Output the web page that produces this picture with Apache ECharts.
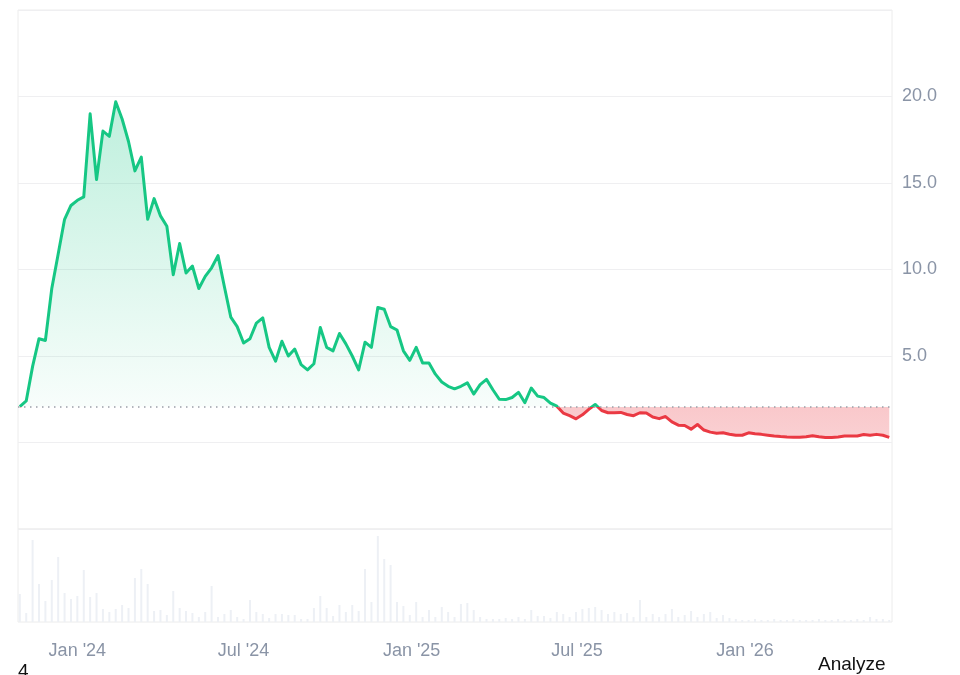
<!DOCTYPE html>
<html>
<head>
<meta charset="utf-8">
<script src="https://cdn.jsdelivr.net/npm/echarts@6/dist/echarts.min.js"></script>
<style>
html,body{margin:0;padding:0;background:#fff;}
#chart{width:960px;height:675px;}
</style>
</head>
<body>
<div id="chart"></div>
<script>
// ---- data ----
const startDate = '2023-10-30';   // first weekly point
const axisStart = '2023-10-28';
const axisEnd = '2026-06-11';
const priceValues = [2.08,2.4,4.4,6.0,5.9,8.9,10.9,12.9,13.7,14.0,
14.2,19.0,15.2,18.0,17.7,19.7,18.7,17.4,15.7,16.5,
12.9,14.1,13.1,12.5,9.7,11.5,9.8,10.2,8.9,9.6,
10.1,10.8,9.0,7.25,6.7,5.75,6.0,6.9,7.2,5.5,
4.7,5.85,5.0,5.4,4.5,4.2,4.55,6.65,5.5,5.3,
6.3,5.7,5.0,4.2,5.8,5.5,7.8,7.7,6.7,6.5,
5.3,4.75,5.5,4.6,4.6,3.95,3.5,3.25,3.1,3.25,
3.45,2.8,3.35,3.65,3.05,2.5,2.48,2.6,2.9,2.3,
3.15,2.68,2.6,2.28,2.1,1.7,1.55,1.37,1.6,1.92,
2.2,1.85,1.72,1.72,1.74,1.62,1.55,1.72,1.7,1.47,
1.38,1.5,1.19,1.0,0.98,0.77,1.04,0.72,0.6,0.54,
0.56,0.48,0.42,0.42,0.56,0.5,0.47,0.42,0.37,0.34,
0.32,0.31,0.31,0.33,0.39,0.33,0.29,0.29,0.32,0.37,
0.37,0.38,0.46,0.42,0.47,0.42,0.3];
const volumeValues = [28,9,82,38,21,42,65,29,23,26,
52,25,29,13,10,13,17,14,44,53,
38,11,12,7,31,14,11,9,5,10,
36,5,8,12,5,3,22,10,8,4,
8,8,7,7,3,3,14,26,14,6,
17,10,17,11,53,20,86,63,57,20,
16,7,20,5,12,5,15,10,5,18,
19,12,5,3,3,3,4,3,5,3,
12,6,6,4,10,8,5,10,13,14,
15,12,8,10,8,9,5,22,5,8,
5,8,13,5,7,11,5,8,10,4,
7,4,3,2,2,3,2,2,3,2,
2,3,2,2,2,3,2,2,3,2,
2,3,2,5,3,3,2];
const tickDates = ['2024-01-01','2024-07-01','2025-01-01','2025-07-01','2026-01-01'];
const tickLabels = ["Jan '24","Jul '24","Jan '25","Jul '25","Jan '26"];
const priceTicks = [5, 10, 15, 20];

// ---- helpers ----
const DAY = 86400000;
function parseUTC(s){ const p = s.split('-').map(Number); return Date.UTC(p[0], p[1]-1, p[2]); }
const t0 = parseUTC(startDate);
const dates = priceValues.map((_, i) => t0 + 7 * i * DAY);
const base = priceValues[0];
const tickTimes = tickDates.map(parseUTC);

const GREEN = '#16c784', RED = '#ea3943';
const labelColor = '#8a94a6';
const font = 'Liberation Sans, Arial, sans-serif';

const chart = echarts.init(document.getElementById('chart'), null, {renderer:'canvas'});

const xMin = parseUTC(axisStart), xMax = parseUTC(axisEnd);
const option = {
  animation: false,
  backgroundColor: '#fff',
  grid: [
    {left: 18, right: 68, top: 10, height: 519, show: true, borderColor: '#ececec', borderWidth: 1},
    {left: 18, right: 68, top: 529, height: 93, show: true, borderColor: '#ececec', borderWidth: 1}
  ],
  xAxis: [
    {type: 'value', gridIndex: 0, min: xMin, max: xMax, show: false},
    {type: 'value', gridIndex: 1, min: xMin, max: xMax,
      axisLine: {show: false}, axisTick: {show: false}, splitLine: {show: false},
      axisLabel: {
        customValues: tickTimes,
        margin: 20,
        color: labelColor, fontSize: 18, fontFamily: font,
        formatter: function (v) {
          const idx = tickTimes.indexOf(v);
          return idx >= 0 ? tickLabels[idx] : '';
        }
      }
    }
  ],
  yAxis: [
    {type: 'value', gridIndex: 0, position: 'right', min: -5, max: 25, interval: 5,
      axisLine: {show: false}, axisTick: {show: false},
      splitLine: {show: true, lineStyle: {color: '#efeff1', width: 1}},
      axisLabel: {
        margin: 10, color: labelColor, fontSize: 18, fontFamily: font,
        verticalAlign: 'middle', padding: [3, 0, 0, 0],
        formatter: function (v) { return priceTicks.indexOf(v) >= 0 ? v.toFixed(1) : ''; }
      }
    },
    {type: 'value', gridIndex: 1, min: 0, max: 93, show: false}
  ],
  visualMap: {
    show: false, type: 'piecewise', seriesIndex: 0, dimension: 1,
    pieces: [{gte: -100, lt: base, color: RED}, {gte: base, lte: 100, color: GREEN}]
  },
  series: [
    {
      type: 'line', xAxisIndex: 0, yAxisIndex: 0,
      data: dates.map((d, i) => [d, priceValues[i]]),
      showSymbol: false, symbol: 'none',
      lineStyle: {width: 3, join: 'round'},
      areaStyle: {origin: base, color: 'rgba(22,199,132,0.15)'},
      markLine: {
        silent: true, symbol: 'none', label: {show: false},
        lineStyle: {color: '#9a9fa8', width: 1.5, type: [1.5, 4.5]},
        data: [{yAxis: base}]
      },
      z: 3
    },
    {
      type: 'bar', xAxisIndex: 1, yAxisIndex: 1,
      data: dates.map((d, i) => [d, volumeValues[i]]),
      barWidth: 2,
      itemStyle: {color: '#edf0f5'},
      z: 1
    }
  ],
  graphic: [
    {type: 'text', left: 818, top: 655, style: {text: 'Analyze', fill: '#111', font: '19px ' + font}},
    {type: 'text', left: 18, top: 662, style: {text: '4', fill: '#111', font: '19px ' + font}}
  ]
};
chart.setOption(option);

// gradient fill: green above the baseline fading down, red below
const maxV = Math.max.apply(null, priceValues), minV = Math.min.apply(null, priceValues);
const yTop = chart.convertToPixel({yAxisIndex: 0}, maxV);
const yBase = chart.convertToPixel({yAxisIndex: 0}, base);
const yBot = chart.convertToPixel({yAxisIndex: 0}, minV);
const off = (yBase - yTop) / (yBot - yTop);
chart.setOption({
  series: [{
    areaStyle: {
      origin: base,
      opacity: 1,
      color: new echarts.graphic.LinearGradient(0, yTop, 0, yBot, [
        {offset: 0, color: 'rgba(22,199,132,0.28)'},
        {offset: off, color: 'rgba(22,199,132,0.03)'},
        {offset: off, color: 'rgba(234,57,67,0.28)'},
        {offset: 1, color: 'rgba(234,57,67,0.24)'}
      ], true)
    }
  }, {}]
});
</script>
</body>
</html>
